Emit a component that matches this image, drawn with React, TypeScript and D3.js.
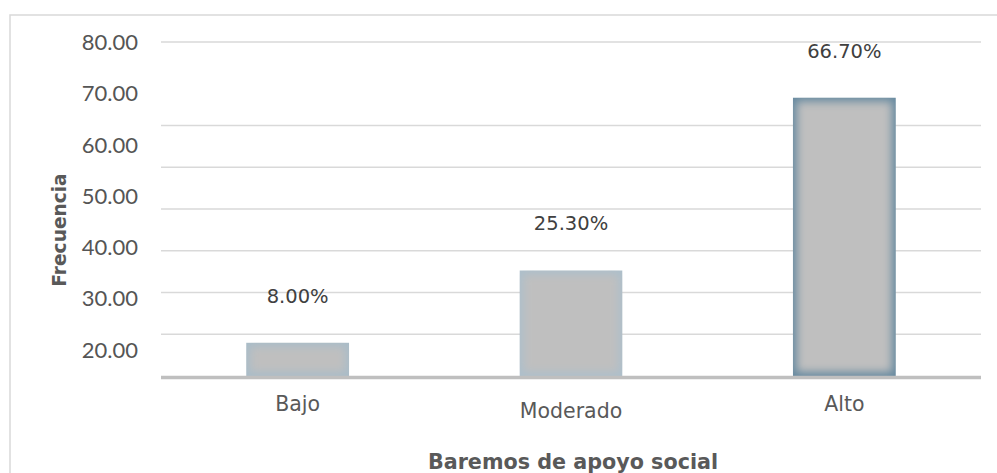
import React from 'react';
import * as d3 from 'd3';

const categories = ['Bajo', 'Moderado', 'Alto'];
const values = [8.0, 25.3, 66.7];
const valueLabels = ['8.00%', '25.30%', '66.70%'];
const gridValues = [10, 20, 30, 40, 50, 60, 80];
const tickLabelValues = [80, 70, 60, 50, 40, 30, 20];
const tickLabels = ['80.00', '70.00', '60.00', '50.00', '40.00', '30.00', '20.00'];
const barEdgeColors = ['#a9bcc8', '#adbfcb', '#678aa0'];

const W = 997;
const H = 473;
const plotLeft = 161;
const plotRight = 981;

export default function App() {
  const y = d3.scaleLinear().domain([0, 80]).range([376, 42]);
  const yLabel = d3.scaleLinear().domain([20, 80]).range([349, 41.5]);
  const x = d3.scaleBand<string>().domain(categories).range([plotLeft, plotRight]).padding(0);
  const barW = x.bandwidth() * 0.377;
  const catDy = [411, 418, 411];

  return (
    <svg width={W} height={H} style={{ position: 'absolute', left: 0, top: 0, background: '#fff' }}>
      <defs>
        <filter id="soft" x="-20%" y="-20%" width="140%" height="140%">
          <feGaussianBlur stdDeviation="4" />
        </filter>
        {categories.map((c, i) => {
          const x0 = (x(c) as number) + x.bandwidth() / 2 - barW / 2;
          const y0 = y(values[i]);
          return (
            <clipPath id={`clip${i}`} key={c}>
              <rect x={x0} y={y0} width={barW} height={y(0) - y0} />
            </clipPath>
          );
        })}
      </defs>
      <rect x={10} y={15} width={1000} height={480} fill="none" stroke="#d9d9d9" strokeWidth={1.5} />
      {gridValues.map((g) => (
        <line key={g} x1={plotLeft} x2={plotRight} y1={y(g)} y2={y(g)} stroke="#d9d9d9" strokeWidth={1.3} />
      ))}
      {tickLabelValues.map((v, i) => (
        <text key={v} x={138} y={yLabel(v)} textAnchor="end" dominantBaseline="central"
          fontFamily="Lato, 'Open Sans', sans-serif" fontSize={22} fill="#555555">
          {tickLabels[i]}
        </text>
      ))}
      {categories.map((c, i) => {
        const x0 = (x(c) as number) + x.bandwidth() / 2 - barW / 2;
        const y0 = y(values[i]);
        const h = y(0) - y0;
        const inset = 4;
        return (
          <g key={c} clipPath={`url(#clip${i})`}>
            <rect x={x0} y={y0} width={barW} height={h} fill={barEdgeColors[i]} />
            <rect x={x0 + inset} y={y0 + inset} width={Math.max(0, barW - 2 * inset)} height={Math.max(0, h - 2 * inset)}
              fill="#bfbfbf" filter="url(#soft)" />
          </g>
        );
      })}
      <line x1={plotLeft} x2={plotRight} y1={y(0) + 1.5} y2={y(0) + 1.5} stroke="#bfbfbf" strokeWidth={3.5} />
      {categories.map((c, i) => (
        <text key={c} x={(x(c) as number) + x.bandwidth() / 2} y={y(values[i]) - 40} textAnchor="middle"
          fontFamily="'DejaVu Sans', sans-serif" fontSize={19.5} fill="#404040">
          {valueLabels[i]}
        </text>
      ))}
      {categories.map((c, i) => (
        <text key={c} x={(x(c) as number) + x.bandwidth() / 2} y={catDy[i]} textAnchor="middle"
          fontFamily="'DejaVu Sans', sans-serif" fontSize={20.5} fill="#595959">
          {c}
        </text>
      ))}
      <text transform="translate(66,230) rotate(-90)" textAnchor="middle"
        fontFamily="'DejaVu Sans', sans-serif" fontWeight="bold" fontSize={18.6} fill="#595959">
        Frecuencia
      </text>
      <text x={(plotLeft + plotRight) / 2 + 2} y={469} textAnchor="middle"
        fontFamily="'DejaVu Sans', sans-serif" fontWeight="bold" fontSize={20.7} fill="#595959">
        Baremos de apoyo social
      </text>
    </svg>
  );
}
